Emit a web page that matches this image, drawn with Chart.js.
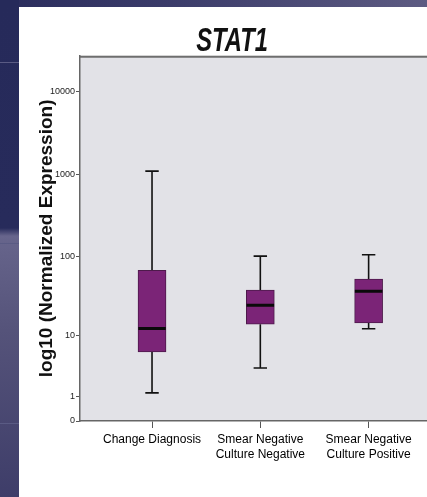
<!DOCTYPE html>
<html>
<head>
<meta charset="utf-8">
<script src="https://cdn.jsdelivr.net/npm/chart.js@4.4.1/dist/chart.umd.min.js"></script>
<style>
  html, body { margin: 0; padding: 0; background: #ffffff; overflow: hidden; }
  #wrap { position: relative; width: 427px; height: 497px; }
  #topband { position: absolute; left: 0; top: 0; width: 427px; height: 7px;
    background: linear-gradient(to right, #2a2c5c, #3b3c6a 40%, #5d5b82); }
  #strip { position: absolute; left: 0; top: 0; width: 19px; height: 497px;
    background: linear-gradient(to bottom, #262a5a 0px, #272b5b 228px, #67658c 236px, #55537a 330px, #3e3d69 497px); }
  .sline { position: absolute; left: 0; width: 19px; height: 1px; background: #5a5b84; }
  canvas { position: absolute; left: 0; top: 0; }
</style>
</head>
<body>
<div id="wrap">
  <div id="topband"></div>
  <div id="strip"></div>
  <div class="sline" style="top:62px"></div>
  <div class="sline" style="top:243px"></div>
  <div class="sline" style="top:423px"></div>
  <canvas id="c" width="427" height="497"></canvas>
</div>
<script>
// ---- data (box plot, values in original units) ----
const categories = ["Change Diagnosis", ["Smear Negative", "Culture Negative"], ["Smear Negative", "Culture Positive"]];
const whiskerLow  = [1.2, 3.4, 12.2];
const q1          = [5.9, 14.0, 14.6];
const median      = [12.3, 24.5, 36.8];
const q3          = [67, 38, 52];
const whiskerHigh = [1090, 100, 104];
const yTickLabels = [0, 1, 10, 100, 1000, 10000];

// axis is log10(value + 1)
const t = v => Math.log10(v + 1);

const sans = '"Liberation Sans", Arial, sans-serif';
const capHalf = 0.062, boxHalf = 0.127;

const whiskerPts = [];
const medianPts = [];
categories.forEach((c, i) => {
  const x = i + 1;
  whiskerPts.push({x: x, y: t(whiskerLow[i])}, {x: x, y: t(q1[i])}, {x: x, y: null});
  whiskerPts.push({x: x - capHalf, y: t(whiskerLow[i])}, {x: x + capHalf, y: t(whiskerLow[i])}, {x: x, y: null});
  whiskerPts.push({x: x, y: t(q3[i])}, {x: x, y: t(whiskerHigh[i])}, {x: x, y: null});
  whiskerPts.push({x: x - capHalf, y: t(whiskerHigh[i])}, {x: x + capHalf, y: t(whiskerHigh[i])}, {x: x, y: null});
  medianPts.push({x: x - boxHalf, y: t(median[i])}, {x: x + boxHalf, y: t(median[i])}, {x: x, y: null});
});
const boxPts = categories.map((c, i) => ({x: i + 1, y: [t(q1[i]), t(q3[i])]}));

const plotFrame = {
  id: 'plotFrame',
  beforeDraw(chart) {
    const {ctx, chartArea: a} = chart;
    ctx.save();
    ctx.fillStyle = '#e2e2e7';
    ctx.fillRect(a.left, a.top, a.right - a.left, a.bottom - a.top);
    ctx.strokeStyle = '#6e6e6e';
    ctx.lineWidth = 2;
    ctx.beginPath();
    ctx.moveTo(a.left, a.top + 1);
    ctx.lineTo(a.right, a.top + 1);
    ctx.stroke();
    ctx.restore();
  }
};

// condensed (narrow) look for the title text
const narrowTitle = {
  id: 'narrowTitle',
  afterInit(chart) {
    const tb = chart.titleBlock;
    if (!tb) return;
    const orig = tb.draw.bind(tb);
    tb.draw = function () {
      const ctx = chart.ctx;
      const cx = (tb.left + tb.right) / 2;
      ctx.save();
      ctx.translate(cx + 18.5, 0);
      ctx.scale(0.72, 1);
      ctx.translate(-cx, 0);
      orig();
      ctx.restore();
    };
  }
};

new Chart(document.getElementById('c'), {
  type: 'bar',
  data: {
    datasets: [
      { type: 'line', data: medianPts, borderColor: '#0a0a0a', borderWidth: 3, pointRadius: 0, spanGaps: false, order: 0 },
      { type: 'bar', data: boxPts, backgroundColor: '#7b2477', borderColor: '#4d1a4b', borderWidth: 1, borderSkipped: false, barThickness: 28, order: 1 },
      { type: 'line', data: whiskerPts, borderColor: '#111111', borderWidth: 1.6, pointRadius: 0, spanGaps: false, order: 2 }
    ]
  },
  options: {
    responsive: false,
    animation: false,
    layout: { padding: { left: 0, right: 0, top: 0, bottom: 0 } },
    plugins: {
      legend: { display: false },
      tooltip: { enabled: false },
      title: {
        display: true, text: 'STAT1', color: '#111',
        font: { family: sans, size: 33, weight: 'bold', style: 'italic', lineHeight: 0.84 },
        padding: { top: 28, bottom: 0 }
      }
    },
    scales: {
      x: {
        type: 'linear', min: 0.335, max: 3.539, offset: false,
        afterBuildTicks: s => { s.ticks = categories.map((c, i) => ({value: i + 1})); },
        afterFit: s => { s.height = 76; },
        ticks: {
          autoSkip: false, maxRotation: 0, color: '#000', padding: 4,
          font: { family: sans, size: 12, lineHeight: 1.25 },
          callback: (v, i) => categories[i]
        },
        grid: { display: true, offset: false, drawOnChartArea: false, drawTicks: true, tickLength: 7, color: '#555', lineWidth: 1 },
        border: { display: true, color: '#666', width: 1.5 }
      },
      y: {
        type: 'linear', min: 0, max: 4.44,
        afterBuildTicks: s => { s.ticks = yTickLabels.map(v => ({value: t(v)})); },
        afterFit: s => { s.width = 80; },
        ticks: {
          autoSkip: false, color: '#222', padding: 1,
          font: { family: sans, size: 9 },
          callback: (v, i) => String(yTickLabels[i])
        },
        grid: { display: true, drawOnChartArea: false, drawTicks: true, tickLength: 4, color: '#555', lineWidth: 1 },
        border: { display: true, color: '#666', width: 1.5 },
        title: {
          display: true, text: 'log10 (Normalized Expression)', color: '#111',
          font: { family: sans, size: 19, weight: 'bold', lineHeight: 1.2 },
          padding: { top: 35, bottom: 0 }
        }
      }
    }
  },
  plugins: [plotFrame, narrowTitle]
});
</script>
</body>
</html>
